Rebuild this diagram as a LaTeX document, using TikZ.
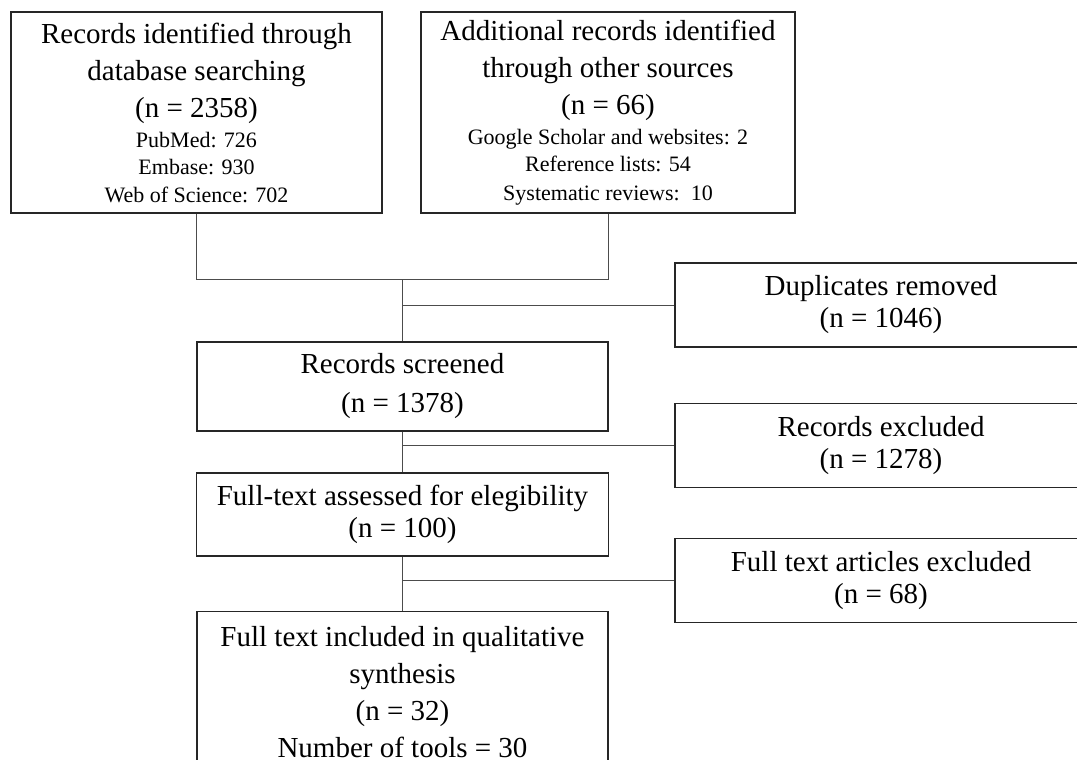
\documentclass[tikz,border=0pt]{standalone}
\usepackage{fontspec}
\setmainfont{Liberation Serif}
\usepackage{tikz}
\usetikzlibrary{positioning,calc}
\newcommand{\prmain}{\fontsize{29}{37}\selectfont}
\newcommand{\prsmall}{\fontsize{22}{27.5}\selectfont}
\tikzset{
  prbox/.style    = {rectangle, draw=black!85, line width=1.3pt, align=center,
                     inner sep=0pt, font=\prmain},
  prside/.style   = {prbox, minimum width=412pt, minimum height=84pt,
                     font=\fontsize{29}{32}\selectfont},
  prlink/.style   = {draw=black!70, line width=0.9pt},
}

\begin{document}
\begin{tikzpicture}[x=1pt,y=-1pt]
  \useasboundingbox (0,0) rectangle (1077,760);
  \clip (0,0) rectangle (1077,760);

  \node[prbox, minimum width=371pt, minimum height=201pt] (db) at (196.5,112.5)
        {Records identified through\\database searching\\(n = 2358)\\[-7pt]
         \prsmall PubMed: 726\\[-9.5pt]\prsmall Embase: 930\\[-9.5pt]\prsmall Web of Science: 702};
  \node[prbox, minimum width=374pt, minimum height=201pt] (other) at (608,112.5)
        {Additional records identified\\through other sources\\(n = 66)\\[-7pt]
         \prsmall Google Scholar and websites: 2\\[-9.5pt]\prsmall Reference lists: 54\\[-8pt]
         \prsmall Systematic reviews:\ \ 10};
  \node[prside] (dup)    at (881,305)   {Duplicates removed\\(n = 1046)};
  \node[prbox, minimum width=411pt, minimum height=89pt,
        font=\fontsize{29}{39}\selectfont] (scr) at (402.5,386.5) {Records screened\\(n = 1378)};
  \node[prside] (excl)   at (881,445.5) {Records excluded\\(n = 1278)};
  \node[prbox, minimum width=412pt, minimum height=83pt,
        font=\fontsize{29}{32}\selectfont] (full) at (402.5,514.5) {Full-text assessed for elegibility\\(n = 100)};
  \node[prside] (ftexcl) at (881,580.5) {Full text articles excluded\\(n = 68)};
  \node[prbox, minimum width=411pt, minimum height=160pt, anchor=north] (incl) at (402.5,611)
        {Full text included in qualitative\\synthesis\\(n = 32)\\Number of tools = 30};

  % connectors
  \path (scr.north) ++(0,-62) coordinate (join);
  \draw[prlink] (db.south) |- (join) -| (other.south);
  \draw[prlink] (join) -- (scr.north);
  \draw[prlink] (scr.north |- dup.west) -- (dup.west);
  \draw[prlink] (scr.south) -- (full.north);
  \draw[prlink] (scr.south |- excl.west) -- (excl.west);
  \draw[prlink] (full.south) -- (incl.north);
  \draw[prlink] (full.south |- ftexcl.west) -- (ftexcl.west);
\end{tikzpicture}
\end{document}
